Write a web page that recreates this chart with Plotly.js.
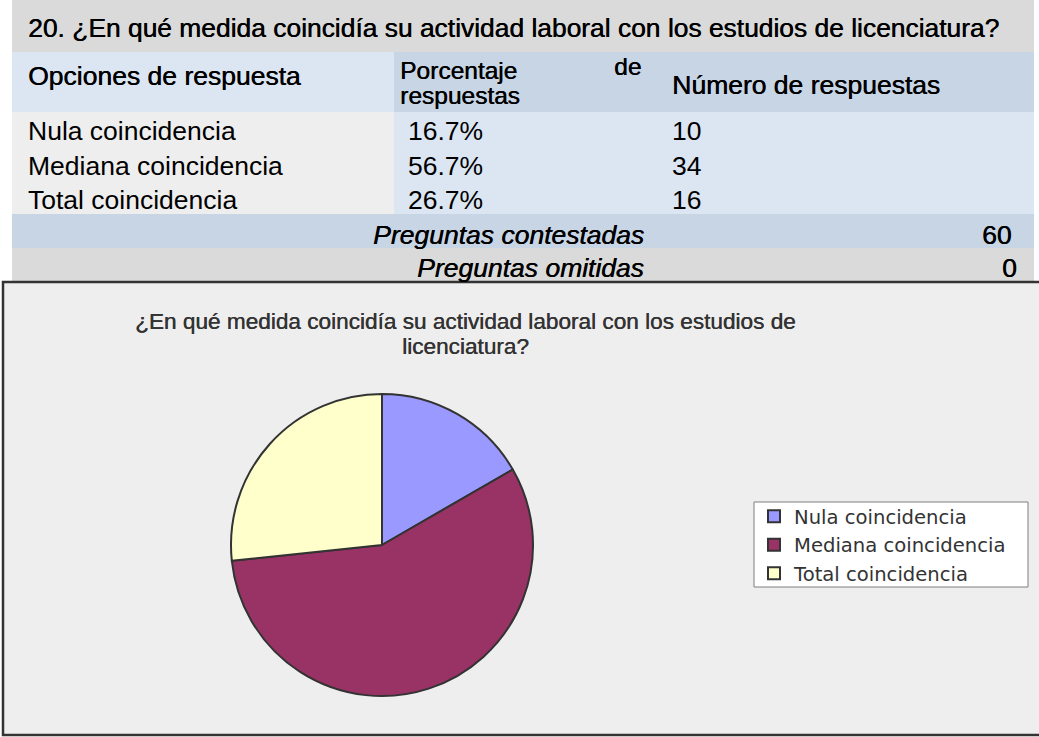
<!DOCTYPE html>
<html>
<head>
<meta charset="utf-8">
<script src="https://cdn.plot.ly/plotly-3.0.1.min.js"></script>
<style>
html,body{margin:0;padding:0;background:#ffffff;}
#chart{width:1039px;height:737px;}
</style>
</head>
<body>
<div id="chart"></div>
<script>
// ---- Data ----
const questionText = "20. ¿En qué medida coincidía su actividad laboral con los estudios de licenciatura?";
const headerLabels = ["Opciones de respuesta", "Porcentaje de respuestas", "Número de respuestas"];
const options = ["Nula coincidencia", "Mediana coincidencia", "Total coincidencia"];
const percentLabels = ["16.7%", "56.7%", "26.7%"];
const responseCounts = [10, 34, 16];
const summaryLabels = ["Preguntas contestadas", "Preguntas omitidas"];
const summaryValues = [60, 0];
const chartTitleLines = ["¿En qué medida coincidía su actividad laboral con los estudios de", "licenciatura?"];

// ---- Layout helpers (pixel -> paper) ----
const W = 1039, H = 737;
const px = x => x / W;
const py = y => 1 - y / H;
const FONT = "Liberation Sans, Arial, sans-serif";
const HEAVY = "0.5px 0 0 #000000";

const shapes = [];
function rect(x0, y0, x1, y1, fill, line) {
  shapes.push({type: "rect", xref: "paper", yref: "paper", layer: "below",
    x0: px(x0), x1: px(x1), y0: py(y1), y1: py(y0), fillcolor: fill,
    line: line || {width: 0}});
}
const annotations = [];
function txt(text, x, y, opts) {
  opts = opts || {};
  annotations.push({text: text, xref: "paper", yref: "paper", x: px(x), y: py(y),
    xanchor: opts.xanchor || "left", yanchor: "middle", showarrow: false,
    font: {family: opts.family || FONT, size: opts.size || 26.5, color: opts.color || "#000000",
      style: opts.style || "normal", shadow: opts.shadow || "none"}});
}

// table backgrounds
const tL = 12, tR = 1034, c2 = 394;
rect(tL, 0, tR, 52, "#dadada");
rect(tL, 52, c2, 112, "#dce6f2");
rect(c2, 52, tR, 112, "#c8d5e5");
rect(tL, 112, c2, 214, "#eeeeee");
rect(c2, 112, tR, 214, "#dce6f2");
rect(tL, 214, tR, 248, "#c8d5e5");
rect(tL, 248, tR, 282, "#dadada");
// chart box
rect(3, 282, 1045, 735, "#eeeeee", {color: "#333333", width: 2.5});
// legend box
rect(754, 502, 1028, 587, "#ffffff", {color: "#7f7f7f", width: 1});

// table text
txt(questionText, 26, 28, {size: 26.4, shadow: HEAVY});
txt(headerLabels[0], 26, 76, {shadow: HEAVY});
const hw = headerLabels[1].split(" ");
txt(hw[0], 398, 70, {size: 24.5, shadow: HEAVY});
txt(hw[1], 643, 66, {xanchor: "right", size: 24.5, shadow: HEAVY});
txt(hw[2], 398, 96, {size: 24.5, shadow: HEAVY});
txt(headerLabels[2], 670, 85, {shadow: HEAVY});
const rowY = [131, 166, 200];
options.forEach((o, i) => {
  txt(o, 26, rowY[i]);
  txt(percentLabels[i], 406, rowY[i]);
  txt(String(responseCounts[i]), 670, rowY[i]);
});
txt(summaryLabels[0], 646, 235, {xanchor: "right", style: "italic", shadow: HEAVY});
txt(String(summaryValues[0]), 1013, 235, {xanchor: "right", shadow: HEAVY});
txt(summaryLabels[1], 646, 268, {xanchor: "right", style: "italic", shadow: HEAVY});
txt(String(summaryValues[1]), 1019, 268, {xanchor: "right", shadow: HEAVY});

// chart title
txt(chartTitleLines[0], 465, 321, {xanchor: "center", size: 22.6, color: "#333333", shadow: "0.4px 0 0 #333333"});
txt(chartTitleLines[1], 465, 346, {xanchor: "center", size: 22.6, color: "#333333", shadow: "0.4px 0 0 #333333"});

const data = [{
  type: "pie",
  labels: options,
  values: responseCounts,
  sort: false,
  direction: "clockwise",
  rotation: 0,
  textinfo: "none",
  hoverinfo: "label+value+percent",
  marker: {colors: ["#9999ff", "#993366", "#ffffcc"], line: {color: "#333333", width: 2}},
  domain: {x: [px(231), px(533)], y: [py(696), py(394)]}
}];

const layout = {
  width: W, height: H,
  margin: {l: 0, r: 0, t: 0, b: 0},
  paper_bgcolor: "#ffffff",
  showlegend: true,
  legend: {x: px(754), y: py(497), xanchor: "left", yanchor: "top",
    bgcolor: "rgba(0,0,0,0)", borderwidth: 0,
    font: {family: "DejaVu Sans, sans-serif", size: 19.6, color: "#333333"}},
  shapes: shapes,
  annotations: annotations
};

Plotly.newPlot("chart", data, layout, {displayModeBar: false, staticPlot: true});
</script>
</body>
</html>
